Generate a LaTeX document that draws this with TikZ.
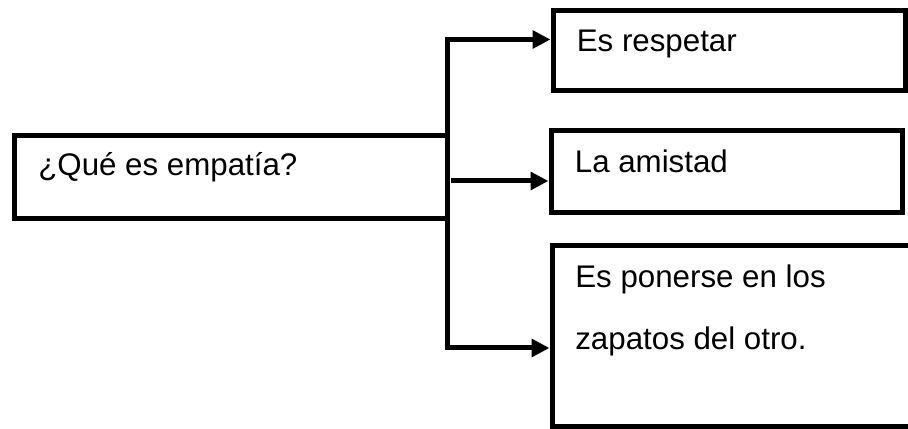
\documentclass[tikz,border=0pt]{standalone}
\usepackage{fontspec}
\setmainfont{Liberation Sans}
\usetikzlibrary{arrows.meta}
\usetikzlibrary{calc}
\tikzset{box/.style = {draw, rectangle, line width=2.85pt, inner sep=0, outer sep=0}}
\tikzset{lbl/.style = {anchor=base west, inner sep=0, align=left,
                       font=\fontsize{17.8}{35.3}\selectfont}}
\tikzset{arr/.style = {line width=2.85pt, shorten >=0.05cm,
                       -{Triangle[length=0.36cm, width=0.35cm]}}}

\begin{document}
\begin{tikzpicture}
    \useasboundingbox (0, 0) rectangle (18.16, 8.58);
    \clip (0, 0) rectangle (18.16, 8.58);

    \node (q) at (4.615, 5.03) [box, minimum width=8.65cm, minimum height=1.66cm] {};
    \node (qt) at ($(q.north west)+(0.47, -0.8)$) [lbl] {¿Qué es empatía?};

    \node (r1) at (14.58, 7.57) [box, minimum width=7.04cm, minimum height=1.6cm] {};
    \node (r1t) at ($(r1.north west)+(0.47, -0.82)$) [lbl] {Es respetar};

    \node (r2) at (14.53, 5.15) [box, minimum width=7.02cm, minimum height=1.64cm] {};
    \node (r2t) at ($(r2.north west)+(0.47, -0.84)$) [lbl] {La amistad};

    \node (r3) at (15.12, 1.855) [box, minimum width=8.16cm, minimum height=3.63cm] {};
    % base of a two-line node is the base of its last line
    \node (r3t) at ($(r3.north west)+(0.46, -2.09)$) [lbl] {Es ponerse en los\\zapatos del otro.};

    \coordinate (r2m) at ([yshift=-0.19cm]r2.west);
    \draw [arr] (q.north east) |- ([yshift=0.22cm]r1.west);
    \draw [arr] ([xshift=0.08cm]q.east |- r2m) -- (r2m);
    \draw [arr] (q.south east) |- ([yshift=-0.235cm]r3.west);
\end{tikzpicture}
\end{document}
